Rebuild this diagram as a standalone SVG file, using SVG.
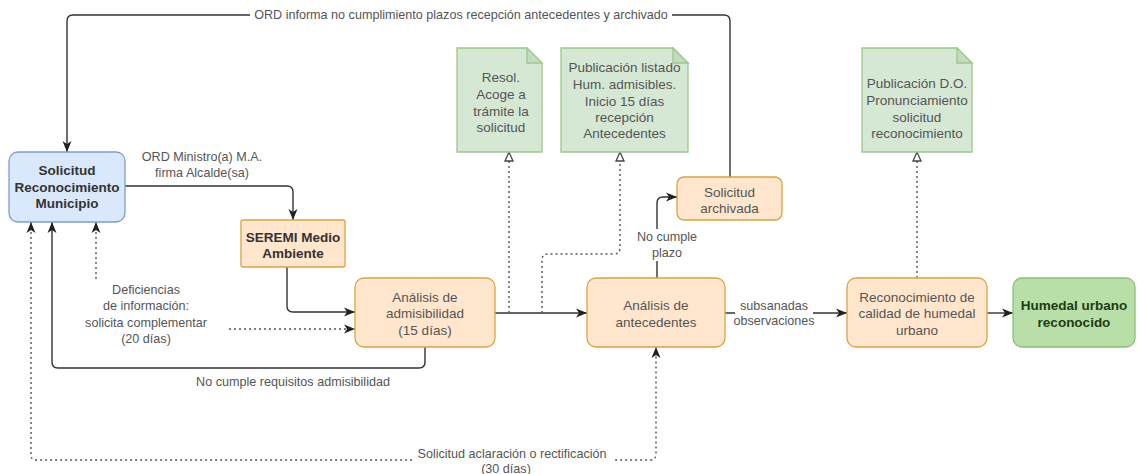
<svg xmlns="http://www.w3.org/2000/svg" width="1138" height="474" viewBox="0 0 1138 474">
<style>
text{font-family:"Liberation Sans",Arial,Helvetica,sans-serif;dominant-baseline:central;text-anchor:middle}
.nt{font-size:13.5px;fill:#555}
.bt{font-size:13.5px;font-weight:bold;fill:#333}
.lb{font-size:12.6px;fill:#555}
.proc{fill:#ffe6cc;stroke:#d9a441;stroke-width:1.3}
.note{fill:#d5e8d4;stroke:#9cc889;stroke-width:1.3}
.fold{fill:#c3dcbf;stroke:#9cc889;stroke-width:1.3}
.ln{fill:none;stroke:#333;stroke-width:1.4}
.dt{fill:none;stroke:#555;stroke-width:1.4;stroke-dasharray:2 3}
.bg{fill:#fff}
</style>
<defs>
<marker id="arr" markerUnits="userSpaceOnUse" markerWidth="12" markerHeight="10" viewBox="0 0 12 10" refX="11" refY="5" orient="auto-start-reverse">
<path d="M0,0.5 L11,5 L0,9.5 L3,5 Z" fill="#222"/>
</marker>
<marker id="tri" markerUnits="userSpaceOnUse" markerWidth="12" markerHeight="12" viewBox="0 0 12 12" refX="10" refY="6" orient="auto">
<path d="M1,2 L10,6 L1,10 Z" fill="#fff" stroke="#444" stroke-width="1.3"/>
</marker>
</defs>

<g id="connectors">
<!-- top loop -->
<path class="ln" d="M730,177 V21 Q730,15 724,15 H73 Q67,15 67,21 V152" marker-end="url(#arr)"/>
<rect class="bg" x="250" y="7" width="422" height="16"/>
<text class="lb" x="461" y="15">ORD informa no cumplimiento plazos recepción antecedentes y archivado</text>
<!-- Solicitud to SEREMI -->
<path class="ln" d="M125,186 H287 Q293,186 293,192 V220" marker-end="url(#arr)"/>
<text class="lb" x="202" y="157">ORD Ministro(a) M.A.</text>
<text class="lb" x="202" y="173">firma Alcalde(sa)</text>
<!-- SEREMI to admisibilidad -->
<path class="ln" d="M287,267 V306 Q287,312 293,312 H355" marker-end="url(#arr)"/>
<!-- deficiencias -->
<path class="dt" d="M96,222 V329 H355" marker-start="url(#arr)" marker-end="url(#arr)"/>
<rect class="bg" x="74" y="280" width="152" height="66"/>
<text class="lb" x="146" y="290">Deficiencias</text>
<text class="lb" x="146" y="306">de información:</text>
<text class="lb" x="146" y="323">solicita complementar</text>
<text class="lb" x="146" y="339">(20 días)</text>
<!-- no cumple requisitos -->
<path class="ln" d="M425,347 V362 Q425,368 419,368 H58 Q52,368 52,362 V222" marker-end="url(#arr)"/>
<text class="lb" x="293" y="382">No cumple requisitos admisibilidad</text>
<!-- admisibilidad to antecedentes -->
<path class="ln" d="M495,313 H587" marker-end="url(#arr)"/>
<!-- to Resol -->
<path class="dt" d="M509,313 V152" marker-end="url(#tri)"/>
<!-- to Publicacion listado -->
<path class="dt" d="M542,313 V260 Q542,254 548,254 H614 Q620,254 620,248 V152" marker-end="url(#tri)"/>
<!-- no cumple plazo -->
<path class="ln" d="M657,278 V203 Q657,197 663,197 H677" marker-end="url(#arr)"/>
<rect class="bg" x="636" y="229" width="62" height="32"/>
<text class="lb" x="667" y="237">No cumple</text>
<text class="lb" x="667" y="253">plazo</text>
<!-- subsanadas -->
<path class="ln" d="M725,313 H847" marker-end="url(#arr)"/>
<rect class="bg" x="735" y="297" width="78" height="32"/>
<text class="lb" x="774" y="306">subsanadas</text>
<text class="lb" x="774" y="321">observaciones</text>
<!-- reconocimiento to humedal -->
<path class="ln" d="M987,313 H1013" marker-end="url(#arr)"/>
<!-- to D.O. -->
<path class="dt" d="M917,278 V152" marker-end="url(#tri)"/>
<!-- aclaracion -->
<path class="dt" d="M31,222 V455 Q31,460 36,460 H650 Q656,460 656,454 V347" marker-start="url(#arr)" marker-end="url(#arr)"/>
<rect class="bg" x="414" y="446" width="200" height="28"/>
<text class="lb" x="512" y="454">Solicitud aclaración o rectificación</text>
<text class="lb" x="506" y="469">(30 días)</text>
</g>

<g id="solicitud">
<rect x="9" y="152" width="116" height="70" rx="9" fill="#dae8fc" stroke="#7d9dcc" stroke-width="1.3"/>
<text class="bt" x="67" y="170">Solicitud</text>
<text class="bt" x="67" y="187">Reconocimiento</text>
<text class="bt" x="67" y="203">Municipio</text>
</g>

<g id="seremi">
<rect class="proc" x="241" y="220" width="104" height="47" rx="2"/>
<text class="bt" x="293" y="237">SEREMI Medio</text>
<text class="bt" x="293" y="253">Ambiente</text>
</g>

<g id="admisibilidad">
<rect class="proc" x="355" y="278" width="140" height="69" rx="9"/>
<text class="nt" x="425" y="297">Análisis de</text>
<text class="nt" x="425" y="313">admisibilidad</text>
<text class="nt" x="425" y="330">(15 días)</text>
</g>

<g id="antecedentes">
<rect class="proc" x="587" y="278" width="138" height="69" rx="9"/>
<text class="nt" x="656" y="305">Análisis de</text>
<text class="nt" x="656" y="322">antecedentes</text>
</g>

<g id="archivada">
<rect class="proc" x="677" y="177" width="105" height="43" rx="7"/>
<text class="nt" x="729.5" y="192">Solicitud</text>
<text class="nt" x="729.5" y="208">archivada</text>
</g>

<g id="reconocimiento">
<rect class="proc" x="847" y="278" width="140" height="69" rx="9"/>
<text class="nt" x="917" y="297">Reconocimiento de</text>
<text class="nt" x="917" y="313">calidad de humedal</text>
<text class="nt" x="917" y="330">urbano</text>
</g>

<g id="humedal">
<rect x="1013" y="278" width="122" height="69" rx="9" fill="#b9dfa8" stroke="#8cbf78" stroke-width="1.3"/>
<text class="bt" x="1074" y="305" style="fill:#1f3a14">Humedal urbano</text>
<text class="bt" x="1074" y="322" style="fill:#1f3a14">reconocido</text>
</g>

<g id="note-resol">
<path class="note" d="M457,48 H527 L542,63 V152 H457 Z"/>
<path class="fold" d="M527,48 V63 H542 Z"/>
<text class="nt" x="501" y="77">Resol.</text>
<text class="nt" x="501" y="94">Acoge a</text>
<text class="nt" x="501" y="111">trámite la</text>
<text class="nt" x="501" y="127">solicitud</text>
</g>

<g id="note-listado">
<path class="note" d="M561,48 H673 L688,63 V152 H561 Z"/>
<path class="fold" d="M673,48 V63 H688 Z"/>
<text class="nt" x="624.5" y="67">Publicación listado</text>
<text class="nt" x="624.5" y="84">Hum. admisibles.</text>
<text class="nt" x="624.5" y="101">Inicio 15 días</text>
<text class="nt" x="624.5" y="117">recepción</text>
<text class="nt" x="624.5" y="133">Antecedentes</text>
</g>

<g id="note-do">
<path class="note" d="M862,48 H957 L972,63 V152 H862 Z"/>
<path class="fold" d="M957,48 V63 H972 Z"/>
<text class="nt" x="917" y="83">Publicación D.O.</text>
<text class="nt" x="917" y="100">Pronunciamiento</text>
<text class="nt" x="917" y="117">solicitud</text>
<text class="nt" x="917" y="133">reconocimiento</text>
</g>
</svg>
